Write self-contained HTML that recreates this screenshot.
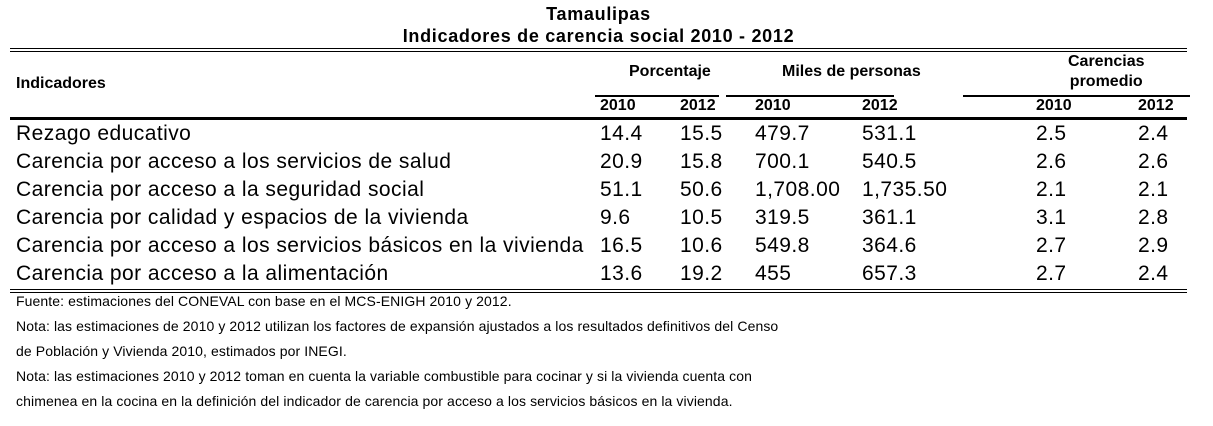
<!DOCTYPE html>
<html><head><meta charset="utf-8"><style>
body{margin:0;width:1213px;height:426px;background:#fff;font-family:"Liberation Sans",Arial,sans-serif;color:#000;position:relative;overflow:hidden}
.a{position:absolute;white-space:nowrap}
.t{font-weight:bold;font-size:18px;letter-spacing:0.7px;text-align:center;left:0;width:1197px}
.h{font-weight:bold;font-size:16px}
.r{font-size:21px;letter-spacing:0.45px}
.f{font-size:14px;letter-spacing:0.1px;left:16px}
.l{position:absolute;background:#000}
</style></head><body>
<div class="a t" style="top:4px">Tamaulipas</div>
<div class="a t" style="top:26px">Indicadores de carencia social 2010 - 2012</div>
<div class="l" style="left:10px;width:1177px;top:48px;height:1px"></div>
<div class="l" style="left:10px;width:1177px;top:51px;height:1px"></div>
<div class="a h" style="left:16px;top:75px">Indicadores</div>
<div class="a h" style="left:629px;top:63px">Porcentaje</div>
<div class="a h" style="left:782px;top:63px">Miles de personas</div>
<div class="a h" style="left:1068px;top:52px;text-align:center;line-height:20px">Carencias<br>promedio</div>
<div class="l" style="left:595px;width:124px;top:95px;height:2px"></div>
<div class="l" style="left:726px;width:168px;top:95px;height:2px"></div>
<div class="l" style="left:963px;width:227px;top:95px;height:2px"></div>
<div id="yrs"></div>
<div class="l" style="left:10px;width:1177px;top:117px;height:3px"></div>
<div id="rows"></div>
<div class="l" style="left:10px;width:1177px;top:289px;height:1px"></div>
<div class="l" style="left:10px;width:1177px;top:292px;height:1px"></div>
<div class="a f" style="top:293px">Fuente: estimaciones del CONEVAL con base en el MCS-ENIGH 2010 y 2012.</div>
<div class="a f" style="top:318px">Nota: las estimaciones de 2010 y 2012 utilizan los factores de expansión ajustados a los resultados definitivos del Censo</div>
<div class="a f" style="top:343px">de Población y Vivienda 2010, estimados por INEGI.</div>
<div class="a f" style="top:368px">Nota: las estimaciones 2010 y 2012 toman en cuenta la variable combustible para cocinar y si la vivienda cuenta con</div>
<div class="a f" style="top:393px">chimenea en la cocina en la definición del indicador de carencia por acceso a los servicios básicos en la vivienda.</div>
<script>
const indicators=["Rezago educativo","Carencia por acceso a los servicios de salud","Carencia por acceso a la seguridad social","Carencia por calidad y espacios de la vivienda","Carencia por acceso a los servicios básicos en la vivienda","Carencia por acceso a la alimentación"];
const pct2010=["14.4","20.9","51.1","9.6","16.5","13.6"];
const pct2012=["15.5","15.8","50.6","10.5","10.6","19.2"];
const miles2010=["479.7","700.1","1,708.00","319.5","549.8","455"];
const miles2012=["531.1","540.5","1,735.50","361.1","364.6","657.3"];
const car2010=["2.5","2.6","2.1","3.1","2.7","2.7"];
const car2012=["2.4","2.6","2.1","2.8","2.9","2.4"];
const yearLabels=["2010","2012","2010","2012","2010","2012"];
const colX=[600,680,755,862,1036,1138];
const yrs=document.getElementById('yrs');
yearLabels.forEach((y,i)=>{const d=document.createElement('div');d.className='a h';d.style.left=colX[i]+'px';d.style.top='97px';d.textContent=y;


yrs.appendChild(d);});
const rows=document.getElementById('rows');
const cols=[pct2010,pct2012,miles2010,miles2012,car2010,car2012];
indicators.forEach((name,r)=>{const top=122+r*28;
const n=document.createElement('div');n.className='a r';n.style.left='16px';n.style.top=top+'px';n.textContent=name;


rows.appendChild(n);
cols.forEach((c,i)=>{const d=document.createElement('div');d.className='a r';d.style.left=colX[i]+'px';d.style.top=top+'px';d.textContent=c[r];


rows.appendChild(d);});});
</script>
</body></html>
